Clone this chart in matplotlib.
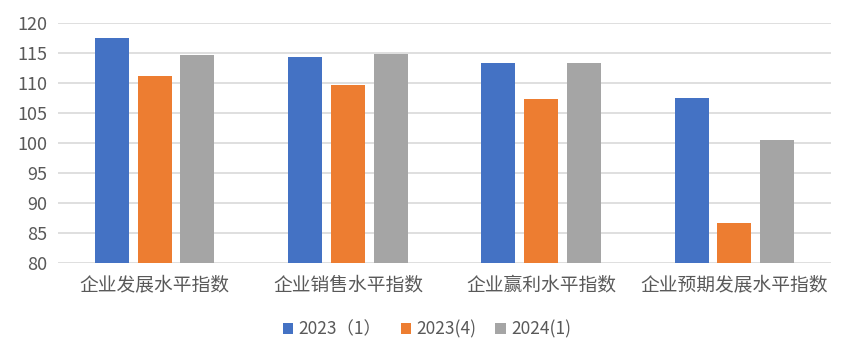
import numpy as np
import matplotlib
matplotlib.use("Agg")
import matplotlib.pyplot as plt

plt.rcParams['font.family'] = ['Noto Sans CJK SC', 'DejaVu Sans']

categories = ['企业发展水平指数', '企业销售水平指数', '企业赢利水平指数', '企业预期发展水平指数']
series_names = ['2023（1）', '2023(4)', '2024(1)']
v_2023_1 = [117.4, 114.3, 113.3, 107.5]
v_2023_4 = [111.1, 109.6, 107.3, 86.7]
v_2024_1 = [114.6, 114.9, 113.3, 100.5]
colors = ['#4472C4', '#ED7D31', '#A5A5A5']

fig = plt.figure(figsize=(8.54, 3.57), dpi=100)
ax = fig.add_axes([0.068, 0.262, 0.905, 0.674])

x = np.arange(len(categories))
w = 0.176
step = 0.221
for i, (vals, name) in enumerate(zip([v_2023_1, v_2023_4, v_2024_1], series_names)):
    ax.bar(x + (i - 1) * step, np.array(vals) - 80, bottom=80, width=w,
           color=colors[i], label=name, zorder=3)

ax.set_ylim(80, 120)
ax.set_xlim(-0.5, len(categories) - 0.5)
ax.set_yticks(np.arange(80, 121, 5))
ax.set_xticks(x)
ax.set_xticklabels(categories)
ax.grid(axis='y', color='#D9D9D9', linewidth=1.2, zorder=0)
for s in ax.spines.values():
    s.set_visible(False)
ax.tick_params(axis='both', length=0, colors='#595959', labelsize=13)
ax.tick_params(axis='x', pad=8, labelsize=13.5)
ax.tick_params(axis='y', pad=8)

fig.legend(loc='center', bbox_to_anchor=(0.5, 0.078), ncol=3, frameon=False,
           fontsize=12.5, handlelength=0.6, handleheight=0.6, handletextpad=0.3,
           columnspacing=1.1, labelcolor='#595959')

fig.savefig('out.png', dpi=100)
